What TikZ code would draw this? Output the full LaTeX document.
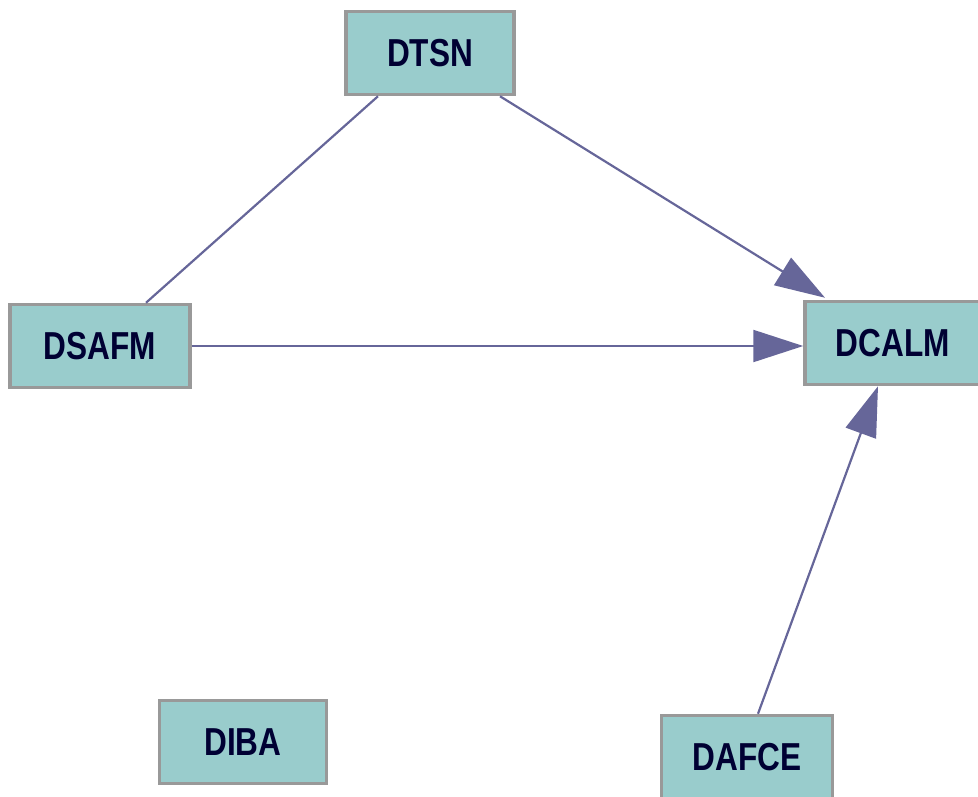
\documentclass[tikz,border=0pt]{standalone}
\usepackage{fontspec}
\setmainfont{Liberation Sans}
\usetikzlibrary{arrows.meta}
\definecolor{boxfill}{HTML}{99CCCC}
\definecolor{boxline}{HTML}{999999}
\definecolor{edgecol}{HTML}{666699}
\definecolor{txtcol}{HTML}{000033}
\newcommand{\boxlbl}[1]{\scalebox{0.81}[1]{\fontsize{39}{39}\selectfont\bfseries #1}}
\tikzset{
  entity/.style={draw=boxline, line width=3.5pt, fill=boxfill, text=txtcol,
    minimum height=83pt, inner sep=0pt, anchor=center},
  link/.style={draw=edgecol, line width=2.2pt},
  arrowlink/.style={link, -{Triangle[length=50pt,width=32pt]}}
}
\begin{document}
\begin{tikzpicture}[x=1pt,y=-1pt]
\useasboundingbox (0,0) rectangle (978,796);
\node[entity, minimum width=168pt] (dtsn) at (430,53) {\boxlbl{DTSN}};
\node[entity, minimum width=180pt] (dsafm) at (100,346) {\boxlbl{DSAFM}};
\node[entity, minimum width=176pt] (dcalm) at (893,343) {\boxlbl{DCALM}};
\node[entity, minimum width=171pt] (dafce) at (747,757) {\boxlbl{DAFCE}};
\node[entity, minimum width=167pt] (diba) at (243,742) {\boxlbl{DIBA}};
\draw[link] ([xshift=-52pt]dtsn.south) -- ([xshift=46pt]dsafm.north);
\draw[arrowlink] ([xshift=70pt]dtsn.south) -- ([xshift=-68pt,yshift=2pt]dcalm.north);
\draw[arrowlink] (dsafm.east) -- ([yshift=-3pt]dcalm.west);
\draw[arrowlink] ([xshift=11pt]dafce.north) -- ([xshift=-15pt]dcalm.south);
\end{tikzpicture}
\end{document}
